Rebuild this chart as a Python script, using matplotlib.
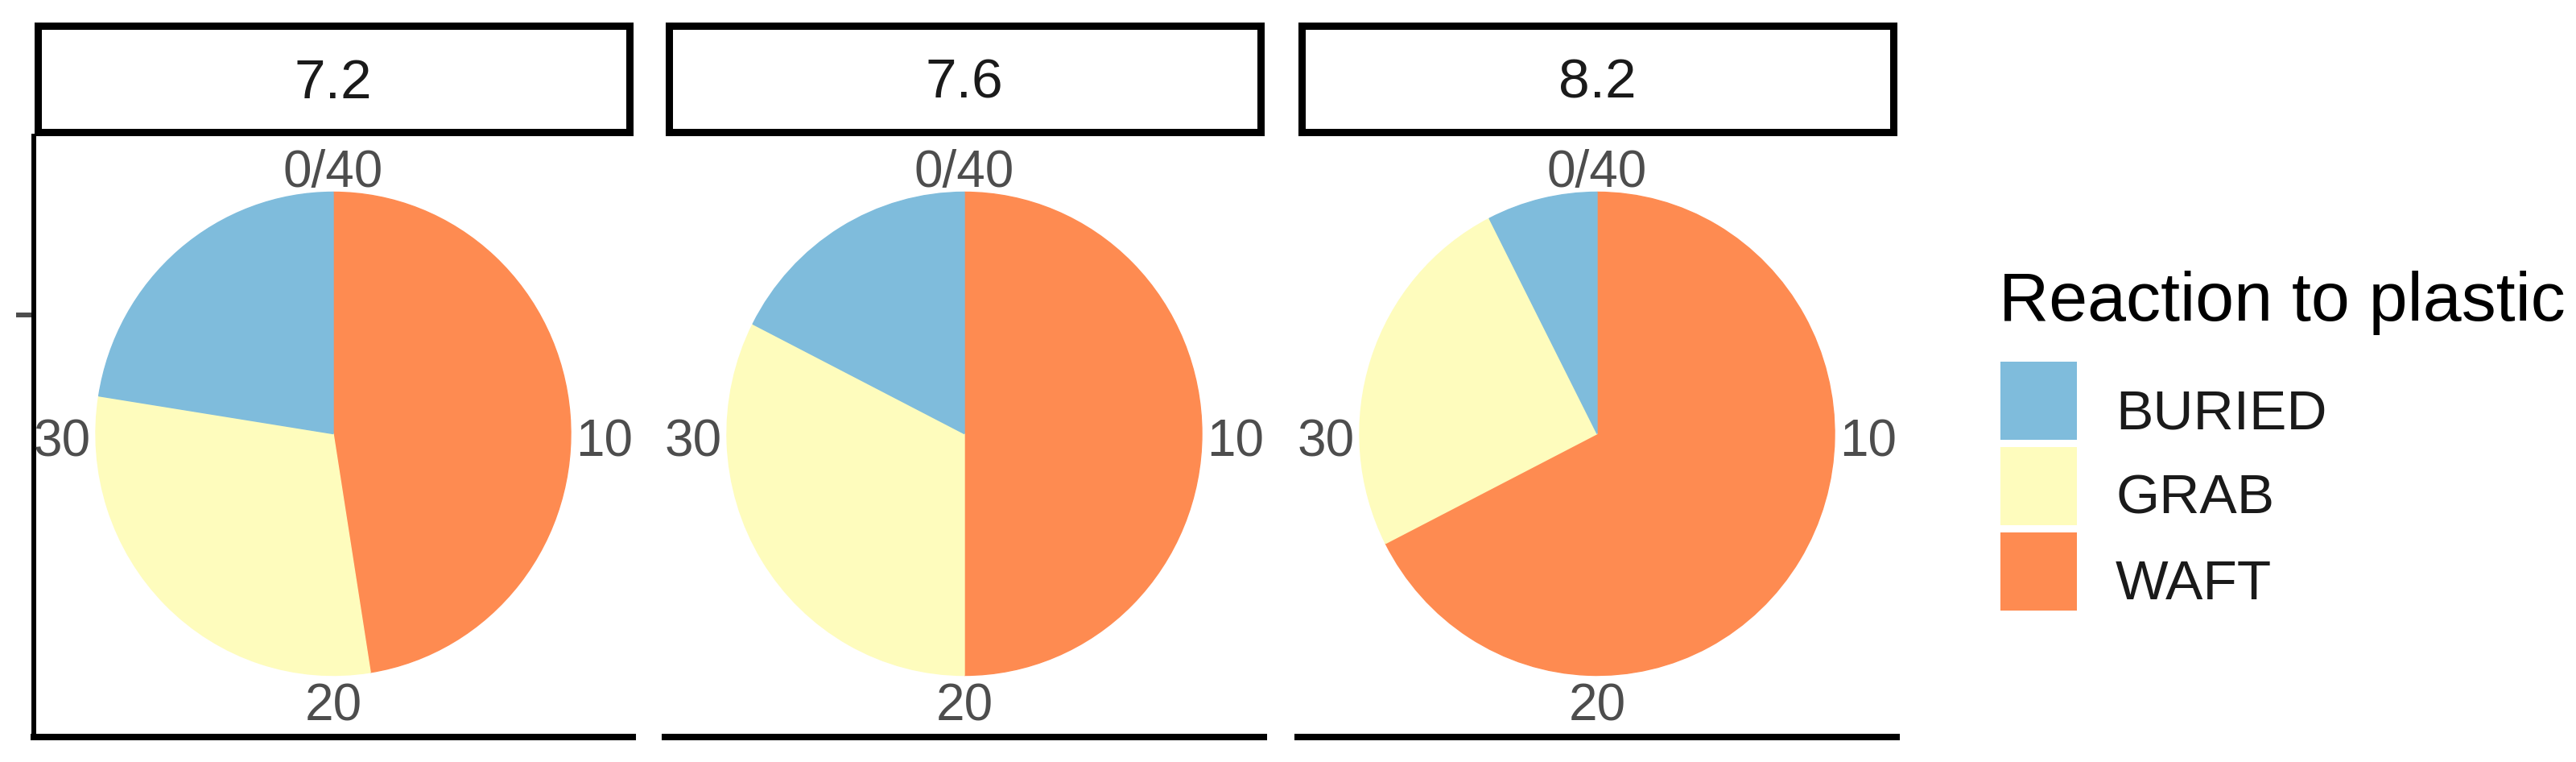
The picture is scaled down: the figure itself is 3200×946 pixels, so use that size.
import numpy as np
import matplotlib
matplotlib.use('Agg')
import matplotlib.pyplot as plt
from matplotlib.patches import Rectangle

plt.rcParams['font.family'] = ['Liberation Sans', 'DejaVu Sans']

# data: counts of each reaction per pH level (40 animals each)
ph_levels = ['7.2', '7.6', '8.2']
reactions = ['BURIED', 'GRAB', 'WAFT']
buried = [9, 7, 3]
grab = [12, 13, 10]
waft = [19, 20, 27]
theta_breaks = [0, 10, 20, 30]

colors = {'BURIED': '#7fbcdc', 'GRAB': '#fefcbd', 'WAFT': '#fe8b51'}

W, H = 3200, 946
fig = plt.figure(figsize=(W / 100, H / 100), dpi=100)


def box(left, top, right, bottom):
    # pixel box -> figure fraction [l, b, w, h]
    return [left / W, 1 - bottom / H, (right - left) / W, (bottom - top) / H]


panel_left = [42, 826, 1612]
panel_w = 744
panel_top, panel_bot = 169, 915
rx, ry = 295, 300       # pie radius in px (x, y)
cy_px = 538.5            # pie centre row

tick_col = '#4d4d4d'

for i, ph in enumerate(ph_levels):
    L = panel_left[i]
    R = L + panel_w
    ax = fig.add_axes(box(L, panel_top, R, panel_bot))
    vals = [waft[i], grab[i], buried[i]]
    cols = [colors['WAFT'], colors['GRAB'], colors['BURIED']]
    wedges, _ = ax.pie(vals, colors=cols, startangle=90, counterclock=False,
                       radius=1, wedgeprops={'linewidth': 1.0})
    for w, c in zip(wedges, cols):
        w.set_edgecolor(c)

    cx_px = (L + R) / 2
    ax.set_aspect('auto')
    ax.set_xlim(-(cx_px - L) / rx, (R - cx_px) / rx)
    ax.set_ylim(-(panel_bot - cy_px) / ry, (cy_px - panel_top) / ry)
    ax.set_frame_on(True)
    for s in ['top', 'right']:
        ax.spines[s].set_visible(False)
    ax.spines['bottom'].set_linewidth(5.8)
    ax.spines['bottom'].set_color('black')
    ax.set_xticks([])
    if i == 0:
        ax.spines['left'].set_linewidth(4.3)
        ax.spines['left'].set_color('black')
        ax.set_yticks([0.49])
        ax.set_yticklabels([''])
        ax.tick_params(axis='y', length=15.5, width=4.3, color=tick_col)
    else:
        ax.spines['left'].set_visible(False)
        ax.set_yticks([])

    total = vals[0] + vals[1] + vals[2]
    for b in theta_breaks:
        th = 2 * np.pi * b / total
        sx, sy = np.sin(th), np.cos(th)
        lab = '%d/%d' % (b, total) if b == 0 else str(b)
        if abs(sx) < 1e-6:
            ha = 'center'
            va = 'baseline' if sy > 0 else 'top'
            r = 1.022 if sy > 0 else 1.03
            dy = 0.0
        else:
            ha = 'left' if sx > 0 else 'right'
            va = 'center_baseline'
            r = 1.02
            dy = -0.015
        ax.text(r * sx, r * sy + dy, lab, ha=ha, va=va, fontsize=46,
                color=tick_col, clip_on=False)

    # facet strip
    sax = fig.add_axes(box(L + 4.5, 32.2, R - 4.5, 164.5))
    sax.set_xticks([])
    sax.set_yticks([])
    for s in sax.spines.values():
        s.set_linewidth(6.5)
        s.set_color('black')
    sax.text(0.5, 0.46, ph, ha='center', va='center', fontsize=50,
             color='#1a1a1a', transform=sax.transAxes)

# legend, laid out in pixels
leg_x = 2485
fig.text((leg_x - 2) / W, 1 - 398 / H, 'Reaction to plastic', fontsize=62,
         color='black', ha='left', va='baseline')
key_top0, key_h, key_w, key_pitch = 449, 97, 95, 106
for j, r in enumerate(reactions):
    top = key_top0 + j * key_pitch
    l, b, w, h = box(leg_x, top, leg_x + key_w, top + key_h)
    fig.add_artist(Rectangle((l, b), w, h, transform=fig.transFigure,
                             facecolor=colors[r], edgecolor='none'))
    fig.text(2628 / W, 1 - (top + 83) / H, r, fontsize=50, color='#1a1a1a',
             ha='left', va='baseline')

fig.savefig('out.png', dpi=100, facecolor='white')
